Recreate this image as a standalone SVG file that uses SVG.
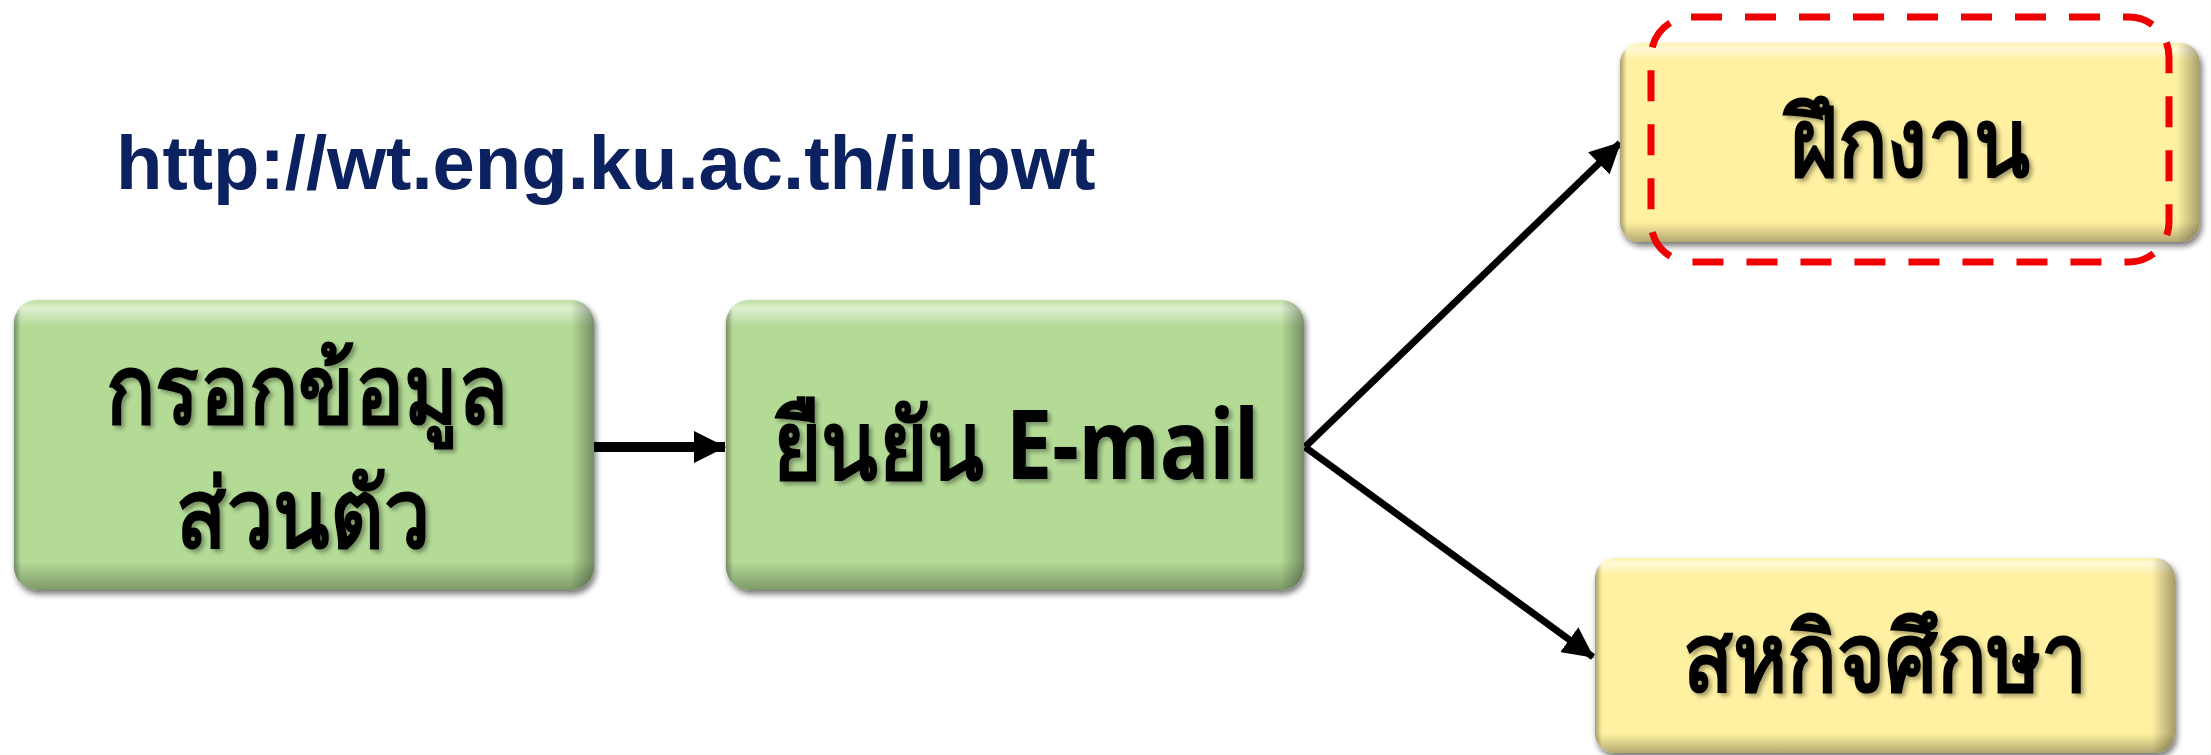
<svg xmlns="http://www.w3.org/2000/svg" width="2211" height="755" viewBox="0 0 2211 755">
  <defs>
    <style>
      .url { font-family: "Liberation Sans", Arial, sans-serif; font-weight: bold; font-size: 76px; fill: #0c2260; }
      .lbl { font-family: "Noto Sans", "Liberation Sans", sans-serif; font-weight: bold; font-size: 96px; fill: #000; text-anchor: middle; }
      .green { fill: #b3db96; }
      .yellow { fill: #fff1a1; }
      .conn { stroke: #000; fill: none; }
    </style>
    <filter id="shadow" x="-5%" y="-5%" width="115%" height="120%">
      <feGaussianBlur in="SourceAlpha" stdDeviation="3"/>
      <feOffset dx="2" dy="4" result="b"/>
      <feComponentTransfer><feFuncA type="linear" slope="0.55"/></feComponentTransfer>
      <feMerge><feMergeNode/><feMergeNode in="SourceGraphic"/></feMerge>
    </filter>
    <filter id="tshadow" x="-5%" y="-10%" width="115%" height="130%">
      <feGaussianBlur in="SourceAlpha" stdDeviation="2"/>
      <feOffset dx="3" dy="3"/>
      <feComponentTransfer><feFuncA type="linear" slope="0.35"/></feComponentTransfer>
      <feMerge><feMergeNode/><feMergeNode in="SourceGraphic"/></feMerge>
    </filter>
    <linearGradient id="vbevel" x1="0" y1="0" x2="0" y2="1">
      <stop offset="0" stop-color="#fff" stop-opacity="0.15"/>
      <stop offset="0.03" stop-color="#fff" stop-opacity="0.55"/>
      <stop offset="0.09" stop-color="#fff" stop-opacity="0"/>
      <stop offset="0.9" stop-color="#000" stop-opacity="0"/>
      <stop offset="1" stop-color="#000" stop-opacity="0.3"/>
    </linearGradient>
    <linearGradient id="hbevel" x1="0" y1="0" x2="1" y2="0">
      <stop offset="0" stop-color="#000" stop-opacity="0.35"/>
      <stop offset="0.012" stop-color="#000" stop-opacity="0"/>
      <stop offset="0.96" stop-color="#000" stop-opacity="0"/>
      <stop offset="1" stop-color="#000" stop-opacity="0.35"/>
    </linearGradient>
    <marker id="arrow" markerWidth="4.4" markerHeight="4.4" refX="4.2" refY="2.2" orient="auto" markerUnits="strokeWidth">
      <path d="M0,0 L4.4,2.2 L0,4.4 Z" fill="#000"/>
    </marker>
    <marker id="arrow2" markerWidth="3.2" markerHeight="3.2" refX="3.1" refY="1.6" orient="auto" markerUnits="strokeWidth">
      <path d="M0,0 L3.2,1.6 L0,3.2 Z" fill="#000"/>
    </marker>
  </defs>

  <rect width="2211" height="755" fill="#fff"/>

  <text class="url" x="116" y="189">http://wt.eng.ku.ac.th/iupwt</text>

  <g id="connectors">
    <line class="conn" x1="594" y1="447" x2="725" y2="447" stroke-width="10" marker-end="url(#arrow2)"/>
    <line class="conn" x1="1305" y1="447" x2="1620" y2="143" stroke-width="7" marker-end="url(#arrow)"/>
    <line class="conn" x1="1305" y1="447" x2="1593" y2="657" stroke-width="7" marker-end="url(#arrow)"/>
  </g>

  <g id="node-personal">
    <g filter="url(#shadow)">
      <rect class="green" x="14" y="300" width="580" height="290" rx="23"/>
    </g>
    <rect x="14" y="300" width="580" height="290" rx="23" fill="url(#vbevel)"/>
    <rect x="14" y="300" width="580" height="290" rx="23" fill="url(#hbevel)"/>
    <g filter="url(#tshadow)">
      <text class="lbl" x="307" y="423" textLength="402" lengthAdjust="spacingAndGlyphs">กรอกข้อมูล</text>
      <text class="lbl" x="303" y="547" textLength="254" lengthAdjust="spacingAndGlyphs">ส่วนตัว</text>
    </g>
  </g>

  <g id="node-email">
    <g filter="url(#shadow)">
      <rect class="green" x="726" y="300" width="578" height="290" rx="23"/>
    </g>
    <rect x="726" y="300" width="578" height="290" rx="23" fill="url(#vbevel)"/>
    <rect x="726" y="300" width="578" height="290" rx="23" fill="url(#hbevel)"/>
    <g filter="url(#tshadow)">
      <text class="lbl" x="1016" y="479" textLength="486" lengthAdjust="spacingAndGlyphs">ยืนยัน E-mail</text>
    </g>
  </g>

  <g id="node-training">
    <g filter="url(#shadow)">
      <rect class="yellow" x="1620" y="43" width="580" height="199" rx="20"/>
    </g>
    <rect x="1620" y="43" width="580" height="199" rx="20" fill="url(#vbevel)"/>
    <rect x="1620" y="43" width="580" height="199" rx="20" fill="url(#hbevel)"/>
    <g filter="url(#tshadow)">
      <text class="lbl" x="1910" y="176" textLength="240" lengthAdjust="spacingAndGlyphs">ฝึกงาน</text>
    </g>
  </g>

  <g id="node-coop">
    <g filter="url(#shadow)">
      <rect class="yellow" x="1595" y="558" width="580" height="195" rx="20"/>
    </g>
    <rect x="1595" y="558" width="580" height="195" rx="20" fill="url(#vbevel)"/>
    <rect x="1595" y="558" width="580" height="195" rx="20" fill="url(#hbevel)"/>
    <g filter="url(#tshadow)">
      <text class="lbl" x="1885" y="691" textLength="405" lengthAdjust="spacingAndGlyphs">สหกิจศึกษา</text>
    </g>
  </g>

  <g id="highlight">
    <rect x="1651" y="17" width="518" height="245" rx="40" fill="none" stroke="#f00000" stroke-width="7" stroke-dasharray="31 23"/>
  </g>
</svg>
